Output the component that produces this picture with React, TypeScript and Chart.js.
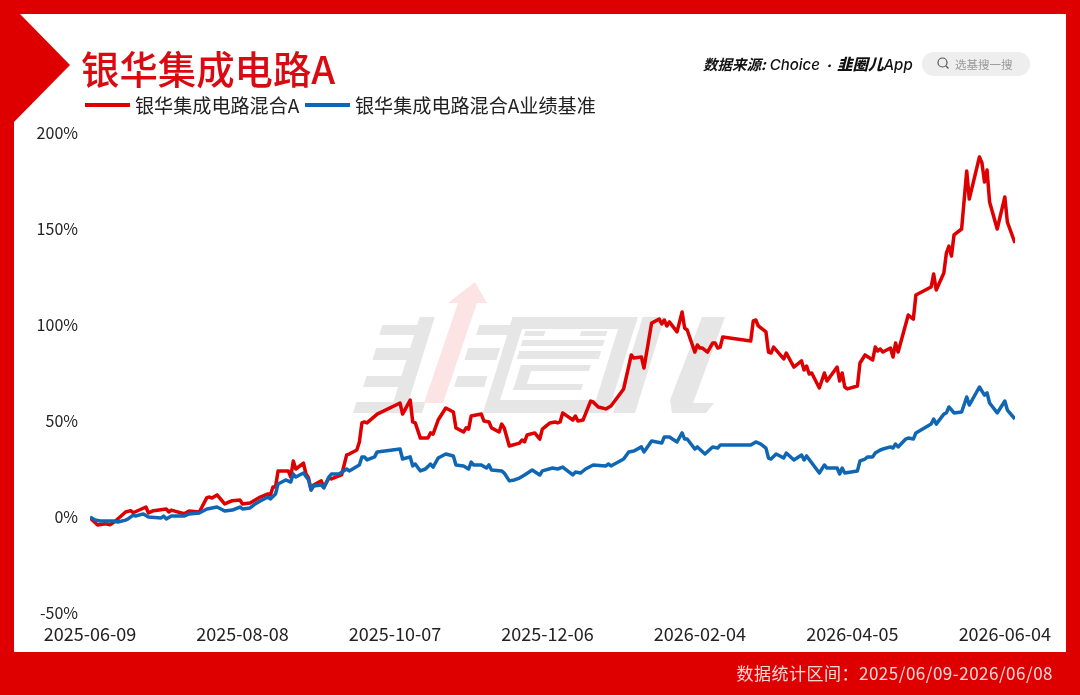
import React, { useEffect, useRef } from "react";
import { Chart, registerables } from "chart.js";

Chart.register(...registerables);

const seriesNames = ["银华集成电路混合A", "银华集成电路混合A业绩基准"];
const tickDays = [0, 60, 120, 180, 240, 300, 360];
const tickLabels = ["2025-06-09", "2025-08-08", "2025-10-07", "2025-12-06", "2026-02-04", "2026-04-05", "2026-06-04"];
const yTicks = [-50, 0, 50, 100, 150, 200];

// days since 2025-06-09, and cumulative return in %
const redDays = [0,3,6,8,10,14,16,17,22,23,25,30,31,32,37,39,43,46,47,48,50,53,56,59,60,63,67,70,71,72,73,74,78,79,80,81,84,85,86,87,88,91,92,94,95,99,100,101,102,105,106,107,108,109,113,122,123,126,127,128,130,133,134,135,137,140,143,144,147,148,149,150,154,155,157,158,161,162,163,165,169,170,171,172,175,177,178,181,183,184,185,186,190,191,192,194,197,198,200,203,205,210,213,214,217,218,221,224,225,226,227,228,231,233,234,235,238,239,240,241,243,245,246,247,248,249,260,261,262,263,266,267,268,269,273,274,277,280,281,282,283,284,287,289,290,294,295,296,297,298,302,303,305,308,309,310,311,312,315,316,317,318,322,324,325,331,332,333,336,337,338,339,340,343,345,346,350,351,352,353,354,357,360,361,364];
const redValues = [-0.5,-4.2,-3.5,-4.0,-2.1,2.6,3.3,2.2,5.2,2.1,3.3,4.2,2.6,3.6,1.7,3.1,2.6,10.1,10.4,9.9,11.5,6.8,8.5,8.9,6.8,7.3,10.4,12.0,11.5,15.6,15.6,24.0,24.0,20.8,29.2,25.0,28.1,22.4,20.3,14.1,16.7,18.8,15.6,20.3,19.8,21.9,27.1,32.3,32.8,34.9,39.1,49.0,49.5,49.0,53.6,59.4,53.6,60.9,49.5,49.0,41.1,41.1,43.8,43.2,50.5,56.8,54.7,46.4,44.3,46.4,45.8,52.6,53.6,50.0,49.5,46.4,44.3,48.4,46.4,37.0,38.5,40.1,39.1,42.7,43.8,40.6,45.8,49.0,49.5,49.0,49.5,54.2,50.5,52.6,50.0,50.5,60.4,59.9,57.3,56.3,57.8,66.7,84.4,82.8,83.3,77.6,101.0,103.1,100.5,102.6,99.5,101.6,96.4,106.8,98.4,97.4,85.9,89.6,88.0,88.0,85.9,90.6,90.6,88.0,88.5,93.8,91.7,102.1,102.6,99.5,96.4,85.9,85.4,88.5,82.3,85.4,78.1,81.3,76.6,78.6,74.5,75.0,67.2,75.0,70.8,78.1,70.8,75.0,67.7,66.7,68.2,80.2,84.4,81.8,88.5,86.5,87.5,85.9,88.0,83.3,90.6,85.9,105.2,103.1,115.6,119.8,126.6,118.2,127.1,137.5,141.1,135.9,146.9,150.0,180.2,165.6,187.5,184.4,174.5,180.7,164.1,150.0,166.7,153.6,142.7];

const blueDays = [0,2,4,9,11,14,15,17,18,21,23,28,29,30,32,37,39,43,46,48,50,53,56,59,60,63,65,67,70,71,73,74,77,79,80,81,84,86,87,88,91,92,94,95,98,101,102,106,107,108,109,112,113,122,123,126,127,128,130,132,134,135,137,140,143,144,147,149,150,151,154,156,157,158,162,163,165,167,169,171,174,177,178,182,184,186,190,191,193,195,198,203,204,205,210,212,214,217,218,221,225,226,228,231,233,234,235,238,239,242,245,247,248,260,262,264,266,267,268,270,273,274,277,280,281,282,287,289,290,294,295,296,297,302,303,305,306,308,309,311,312,315,316,317,318,321,322,324,325,331,332,333,336,337,338,340,343,345,346,350,352,353,354,357,360,361,364];
const blueValues = [0,-1.6,-2.1,-2.1,-2.6,-1.6,-1.0,1.0,0.5,1.6,0,-0.5,0.5,-1.0,0.5,0.5,1.6,2.1,4.2,4.7,5.2,3.1,3.6,5.2,4.2,4.7,6.8,8.3,10.4,9.4,12.0,17.2,19.3,18.2,22.4,20.8,22.9,19.3,14.1,16.1,16.7,15.1,20.8,22.4,22.4,25.0,24.0,27.1,31.3,31.3,29.7,31.3,33.9,35.4,30.2,31.3,26.6,27.6,24.0,25.0,27.6,26.0,30.7,32.8,31.8,27.1,26.6,25.0,28.6,27.1,27.1,25.5,27.1,24.5,24.0,22.9,18.8,19.3,20.3,21.9,24.5,21.9,24.0,25.5,25.0,26.0,21.9,23.4,22.9,25.0,27.1,26.6,27.6,26.6,30.2,33.9,34.4,36.5,33.9,39.6,38.5,41.7,41.7,39.1,43.8,40.6,40.6,35.4,36.5,32.8,36.5,35.9,37.5,37.5,39.1,38.0,35.9,30.7,30.2,32.8,30.7,33.3,29.7,32.3,29.7,31.8,22.9,27.1,25.5,25.5,22.4,25.5,22.9,24.0,29.2,30.2,31.3,31.3,33.3,34.9,35.4,36.5,35.9,38.0,36.5,40.6,41.1,40.6,43.8,48.4,51.0,48.4,53.6,54.2,57.3,54.2,54.7,62.5,58.3,67.7,63.5,64.6,59.4,54.2,60.4,55.7,51.0];

const RED = "#DE0000";
const BLUE = "#0F66B4";
const CJK = '"Noto Sans CJK SC", "Noto Sans", sans-serif';

// Slanted bar for the background logo: x0/x1 are measured on the line y = 413
const SLOPE = 0.31;
const bar = (x0: number, x1: number, top: number, bottom: number) =>
  `${x0 + (413 - bottom) * SLOPE},${bottom} ${x1 + (413 - bottom) * SLOPE},${bottom} ${x1 + (413 - top) * SLOPE},${top} ${x0 + (413 - top) * SLOPE},${top}`;

const logoBars = [
  bar(355, 392, 325, 335), bar(356, 392, 348, 360), bar(355, 392, 376, 387), bar(353, 422, 402, 413),
  bar(390, 405, 317, 413),
  bar(452, 484, 325, 335), bar(448, 480, 348, 360), bar(446, 476, 376, 387),
  bar(483, 496, 317, 413), bar(483, 608, 317, 329), bar(483, 608, 400, 413), bar(592, 608, 317, 413),
  bar(500, 520, 331, 336), bar(556, 582, 331, 336),
  bar(500, 582, 340, 346), bar(500, 582, 351, 359), bar(506, 576, 365, 371), bar(506, 518, 371, 390), bar(506, 574, 384, 390),
  bar(613, 635, 317, 413),
];

function Watermark() {
  return (
    <svg width={1080} height={695} style={{ position: "absolute", left: 0, top: 0 }}>
      <polygon points="20,14 70,65 14,122 14,14" fill={RED} />
      {logoBars.map((p, i) => <polygon key={i} points={p} fill="#E6E6E6" />)}
      <polygon points="672,403 693,403 725,317 702,317 670,400 672,413 706,413 714,403" fill="#E6E6E6" />
      <polygon points="424,403 443,403 477,303 487,303 475,282 448,303 458,303" fill="#FDE4E4" />
    </svg>
  );
}

function abs(left: number, top: number, extra: React.CSSProperties = {}): React.CSSProperties {
  return { position: "absolute", left, top, whiteSpace: "nowrap", fontFamily: CJK, ...extra };
}

export default function App() {
  const ref = useRef<HTMLCanvasElement>(null);

  useEffect(() => {
    document.body.style.margin = "0";
    document.body.style.overflow = "hidden";
    const chart = new Chart(ref.current!, {
      type: "line",
      data: {
        datasets: [
          {
            label: seriesNames[0],
            data: redDays.map((d, i) => ({ x: d, y: redValues[i] })),
            borderColor: RED,
            borderWidth: 3.5,
            pointRadius: 0,
            tension: 0,
            borderJoinStyle: "round",
            order: 2,
          },
          {
            label: seriesNames[1],
            data: blueDays.map((d, i) => ({ x: d, y: blueValues[i] })),
            borderColor: BLUE,
            borderWidth: 3.5,
            pointRadius: 0,
            tension: 0,
            borderJoinStyle: "round",
            order: 1,
          },
        ],
      },
      options: {
        responsive: false,
        animation: false,
        parsing: false,
        layout: { padding: { top: 133, right: 65, left: 0, bottom: 0 } },
        plugins: { legend: { display: false }, tooltip: { enabled: false }, title: { display: false } },
        scales: {
          x: {
            type: "linear",
            min: 0,
            max: 364,
            grid: { display: false, drawTicks: false },
            border: { display: false },
            afterBuildTicks: (s: any) => { s.ticks = tickDays.map((value) => ({ value })); },
            afterFit: (s: any) => { s.height = 82; },
            ticks: {
              maxRotation: 0,
              autoSkip: false,
              padding: 10,
              color: "#222",
              font: { family: CJK, size: 18 },
              callback: (v: any) => tickLabels[tickDays.indexOf(Number(v))] ?? "",
            },
          },
          y: {
            min: -50,
            max: 200,
            grid: { display: false, drawTicks: false },
            border: { display: false },
            afterBuildTicks: (s: any) => { s.ticks = yTicks.map((value) => ({ value })); },
            afterFit: (s: any) => { s.width = 90; },
            ticks: {
              padding: 12,
              color: "#222",
              font: { family: CJK, size: 16 },
              callback: (v: any) => `${v}%`,
            },
          },
        },
      },
    } as any);
    return () => chart.destroy();
  }, []);

  return (
    <div style={{ position: "absolute", left: 0, top: 0, width: 1080, height: 695, background: RED, overflow: "hidden" }}>
      <div style={{ position: "absolute", left: 14, top: 14, width: 1052, height: 638, background: "#fff" }} />
      <Watermark />
      <canvas ref={ref} width={1080} height={695} style={{ position: "absolute", left: 0, top: 0 }} />

      <div style={abs(81, 40, { fontSize: 38.4, lineHeight: "54px", fontWeight: 500, color: "#D90A12" })}>银华集成电路A</div>

      <div style={{ position: "absolute", left: 85, top: 103, width: 45, height: 4, background: RED }} />
      <div style={abs(135, 91, { fontSize: 19.1, lineHeight: "28px", color: "#222" })}>{seriesNames[0]}</div>
      <div style={{ position: "absolute", left: 305, top: 103, width: 45, height: 4, background: BLUE }} />
      <div style={abs(355, 91, { fontSize: 19.1, lineHeight: "28px", color: "#222" })}>{seriesNames[1]}</div>

      <div style={abs(703, 52, { fontSize: 14.5, lineHeight: "22px", fontWeight: 700, fontStyle: "italic", color: "#111" })}>
        数据来源:<span style={{ fontFamily: "Inter, sans-serif", fontWeight: 500, fontSize: 15, marginLeft: 4 }}>Choice</span>
        <span style={{ fontSize: 11, margin: "0 3px" }}>·</span>
        <span style={{ fontWeight: 900, fontSize: 15.5 }}>韭圈儿</span>
        <span style={{ fontFamily: "Inter, sans-serif", fontWeight: 500, fontSize: 15 }}>App</span>
      </div>
      <div style={{ position: "absolute", left: 922, top: 52, width: 108, height: 24, borderRadius: 12, background: "#EEEEEE" }} />
      <svg width={14} height={14} style={{ position: "absolute", left: 936, top: 56 }}>
        <circle cx={6.5} cy={6.5} r={4.5} fill="none" stroke="#555" strokeWidth={1.2} />
        <line x1={10} y1={10} x2={12.5} y2={12.5} stroke="#555" strokeWidth={1.2} />
      </svg>
      <div style={abs(955, 55, { fontSize: 11.5, lineHeight: "18px", color: "#9A9A9A" })}>选基搜一搜</div>

      <div style={abs(637, 660, { fontSize: 17, lineHeight: "26px", color: "#FFD9D9", width: 416, textAlign: "right", letterSpacing: 0.5 })}>
        数据统计区间：2025/06/09-2026/06/08
      </div>
    </div>
  );
}
